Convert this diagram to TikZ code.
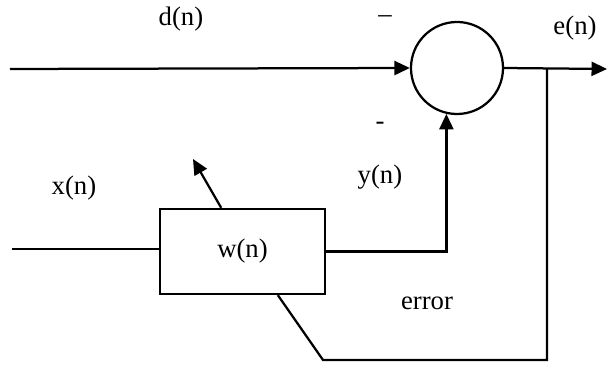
\documentclass[tikz,border=0pt]{standalone}
\usepackage{fontspec}
\setmainfont{Liberation Serif}
\usetikzlibrary{arrows.meta}
\begin{document}
\begin{tikzpicture}[
        x=0.025cm, y=-0.025cm,
        line width=1.6pt,
        sig/.style={-{Triangle[length=11pt,width=10pt]}},
        sumnode/.style={
          draw,
          circle,
          inner sep=0pt,
          minimum size=2.3cm
        },
        block/.style={
          draw,
          minimum width=4.125cm,
          minimum height=2.125cm,
          font=\fontsize{19}{22}\selectfont
        },
        lbl/.style={font=\fontsize{19}{22}\selectfont, inner sep=1pt}
      ]
      \useasboundingbox (0,0) rectangle (608,366);

      \node[sumnode] (sum) at (457,68) {};
      \node[block] (filter) at (242.5,251.5) {w(n)};

      \coordinate (din) at (10,69);
      \coordinate (xin) at (12,249);
      \coordinate (eout) at (607,69);
      \coordinate (tap) at (547,69);
      \coordinate (fbcorner) at (547,360);
      \coordinate (fbbend) at (323,360);
      \coordinate (adapt) at (193,159);

      \node[lbl] (dlabel) at (181,19) {d(n)};
      \node[lbl] (elabel) at (575,28) {e(n)};
      \node[lbl] (xlabel) at (74,188) {x(n)};
      \node[lbl] (ylabel) at (380,177) {y(n)};
      \node[lbl] (errlabel) at (427,303) {error};
      \node[lbl] (dsign) at (385,19) {\textendash};
      \node[lbl] (ysign) at (380,126) {-};

      \draw[sig] (din) -- (sum.west);
      \draw[sig] (sum.east) -- (eout);
      \draw (xin) -- (xin -| filter.west);
      \draw[sig] (filter.east) -| (sum.257);
      \draw[sig] (filter.116) -- (adapt);
      \draw (tap) -- (fbcorner) -- (fbbend) -- (filter.-51);
    \end{tikzpicture}
\end{document}
